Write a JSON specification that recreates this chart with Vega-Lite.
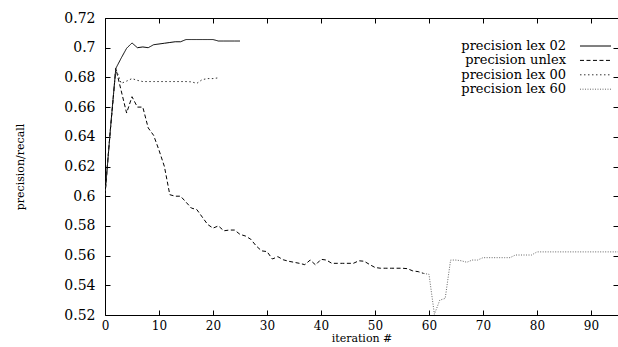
{
  "$schema": "https://vega.github.io/schema/vega-lite/v6.json",
  "width": 513,
  "height": 297,
  "autosize": "none",
  "padding": {"left": 105, "top": 18, "right": 0, "bottom": 32},
  "background": "white",
  "config": {
    "font": "DejaVu Serif",
    "view": {"stroke": "black", "strokeWidth": 1},
    "axis": {
      "labelFont": "DejaVu Serif",
      "labelFontSize": 13,
      "labelColor": "black",
      "titleFont": "DejaVu Serif",
      "titleFontSize": 12,
      "titleFontWeight": "normal",
      "titleColor": "black",
      "domain": false,
      "tickColor": "black",
      "tickSize": 5,
      "offset": -5,
      "grid": false
    },
    "legend": {
      "orient": "none",
      "legendX": 484,
      "legendY": 21.5,
      "symbolType": "M-6,0H6",
      "symbolSize": 26.7,
      "symbolStrokeWidth": 1,
      "labelAlign": "right",
      "labelOffset": -36,
      "labelFont": "DejaVu Serif",
      "labelFontSize": 13,
      "labelColor": "black",
      "rowPadding": 0.4,
      "padding": 0
    }
  },
  "data": {
    "values": [
      {"s": "precision lex 02", "x": 0, "v": 0.601},
      {"s": "precision lex 02", "x": 1, "v": 0.645},
      {"s": "precision lex 02", "x": 2, "v": 0.686},
      {"s": "precision lex 02", "x": 3, "v": 0.693},
      {"s": "precision lex 02", "x": 4, "v": 0.6996},
      {"s": "precision lex 02", "x": 5, "v": 0.7032},
      {"s": "precision lex 02", "x": 6, "v": 0.7},
      {"s": "precision lex 02", "x": 7, "v": 0.7005},
      {"s": "precision lex 02", "x": 8, "v": 0.7},
      {"s": "precision lex 02", "x": 9, "v": 0.702},
      {"s": "precision lex 02", "x": 10, "v": 0.7025},
      {"s": "precision lex 02", "x": 11, "v": 0.703},
      {"s": "precision lex 02", "x": 12, "v": 0.7035},
      {"s": "precision lex 02", "x": 13, "v": 0.704},
      {"s": "precision lex 02", "x": 14, "v": 0.704},
      {"s": "precision lex 02", "x": 15, "v": 0.7055},
      {"s": "precision lex 02", "x": 16, "v": 0.7055},
      {"s": "precision lex 02", "x": 17, "v": 0.7055},
      {"s": "precision lex 02", "x": 18, "v": 0.7055},
      {"s": "precision lex 02", "x": 19, "v": 0.7055},
      {"s": "precision lex 02", "x": 20, "v": 0.7055},
      {"s": "precision lex 02", "x": 21, "v": 0.7045},
      {"s": "precision lex 02", "x": 22, "v": 0.7045},
      {"s": "precision lex 02", "x": 23, "v": 0.7045},
      {"s": "precision lex 02", "x": 24, "v": 0.7045},
      {"s": "precision lex 02", "x": 25, "v": 0.7045},

      {"s": "precision unlex", "x": 0, "v": 0.601},
      {"s": "precision unlex", "x": 1, "v": 0.645},
      {"s": "precision unlex", "x": 2, "v": 0.686},
      {"s": "precision unlex", "x": 3, "v": 0.671},
      {"s": "precision unlex", "x": 4, "v": 0.656},
      {"s": "precision unlex", "x": 5, "v": 0.667},
      {"s": "precision unlex", "x": 6, "v": 0.66},
      {"s": "precision unlex", "x": 7, "v": 0.66},
      {"s": "precision unlex", "x": 8, "v": 0.646},
      {"s": "precision unlex", "x": 9, "v": 0.641},
      {"s": "precision unlex", "x": 10, "v": 0.631},
      {"s": "precision unlex", "x": 11, "v": 0.62},
      {"s": "precision unlex", "x": 12, "v": 0.601},
      {"s": "precision unlex", "x": 13, "v": 0.6},
      {"s": "precision unlex", "x": 14, "v": 0.6},
      {"s": "precision unlex", "x": 15, "v": 0.596},
      {"s": "precision unlex", "x": 16, "v": 0.592},
      {"s": "precision unlex", "x": 17, "v": 0.591},
      {"s": "precision unlex", "x": 18, "v": 0.586},
      {"s": "precision unlex", "x": 19, "v": 0.581},
      {"s": "precision unlex", "x": 20, "v": 0.5785},
      {"s": "precision unlex", "x": 21, "v": 0.58},
      {"s": "precision unlex", "x": 22, "v": 0.5767},
      {"s": "precision unlex", "x": 23, "v": 0.5772},
      {"s": "precision unlex", "x": 24, "v": 0.5772},
      {"s": "precision unlex", "x": 25, "v": 0.5743},
      {"s": "precision unlex", "x": 26, "v": 0.5732},
      {"s": "precision unlex", "x": 27, "v": 0.571},
      {"s": "precision unlex", "x": 28, "v": 0.5665},
      {"s": "precision unlex", "x": 29, "v": 0.5632},
      {"s": "precision unlex", "x": 30, "v": 0.5627},
      {"s": "precision unlex", "x": 31, "v": 0.5577},
      {"s": "precision unlex", "x": 32, "v": 0.5593},
      {"s": "precision unlex", "x": 33, "v": 0.5572},
      {"s": "precision unlex", "x": 34, "v": 0.5562},
      {"s": "precision unlex", "x": 35, "v": 0.5555},
      {"s": "precision unlex", "x": 36, "v": 0.5548},
      {"s": "precision unlex", "x": 37, "v": 0.5539},
      {"s": "precision unlex", "x": 38, "v": 0.557},
      {"s": "precision unlex", "x": 39, "v": 0.5537},
      {"s": "precision unlex", "x": 40, "v": 0.5575},
      {"s": "precision unlex", "x": 41, "v": 0.557},
      {"s": "precision unlex", "x": 42, "v": 0.5548},
      {"s": "precision unlex", "x": 43, "v": 0.5548},
      {"s": "precision unlex", "x": 44, "v": 0.5548},
      {"s": "precision unlex", "x": 45, "v": 0.5548},
      {"s": "precision unlex", "x": 46, "v": 0.5548},
      {"s": "precision unlex", "x": 47, "v": 0.5565},
      {"s": "precision unlex", "x": 48, "v": 0.5562},
      {"s": "precision unlex", "x": 49, "v": 0.554},
      {"s": "precision unlex", "x": 50, "v": 0.552},
      {"s": "precision unlex", "x": 51, "v": 0.5515},
      {"s": "precision unlex", "x": 52, "v": 0.5515},
      {"s": "precision unlex", "x": 53, "v": 0.5515},
      {"s": "precision unlex", "x": 54, "v": 0.5515},
      {"s": "precision unlex", "x": 55, "v": 0.5515},
      {"s": "precision unlex", "x": 56, "v": 0.5512},
      {"s": "precision unlex", "x": 57, "v": 0.5497},
      {"s": "precision unlex", "x": 58, "v": 0.5492},
      {"s": "precision unlex", "x": 59, "v": 0.548},

      {"s": "precision lex 00", "x": 0, "v": 0.601},
      {"s": "precision lex 00", "x": 1, "v": 0.645},
      {"s": "precision lex 00", "x": 2, "v": 0.686},
      {"s": "precision lex 00", "x": 3, "v": 0.676},
      {"s": "precision lex 00", "x": 4, "v": 0.6775},
      {"s": "precision lex 00", "x": 5, "v": 0.6792},
      {"s": "precision lex 00", "x": 6, "v": 0.678},
      {"s": "precision lex 00", "x": 7, "v": 0.6772},
      {"s": "precision lex 00", "x": 8, "v": 0.6772},
      {"s": "precision lex 00", "x": 9, "v": 0.6772},
      {"s": "precision lex 00", "x": 10, "v": 0.6772},
      {"s": "precision lex 00", "x": 11, "v": 0.6772},
      {"s": "precision lex 00", "x": 12, "v": 0.6772},
      {"s": "precision lex 00", "x": 13, "v": 0.6772},
      {"s": "precision lex 00", "x": 14, "v": 0.6772},
      {"s": "precision lex 00", "x": 15, "v": 0.6772},
      {"s": "precision lex 00", "x": 16, "v": 0.677},
      {"s": "precision lex 00", "x": 17, "v": 0.676},
      {"s": "precision lex 00", "x": 18, "v": 0.6785},
      {"s": "precision lex 00", "x": 19, "v": 0.6792},
      {"s": "precision lex 00", "x": 20, "v": 0.6792},
      {"s": "precision lex 00", "x": 21, "v": 0.6797},

      {"s": "precision lex 60", "x": 59, "v": 0.548},
      {"s": "precision lex 60", "x": 60, "v": 0.5474},
      {"s": "precision lex 60", "x": 61, "v": 0.5205},
      {"s": "precision lex 60", "x": 62, "v": 0.53},
      {"s": "precision lex 60", "x": 63, "v": 0.5312},
      {"s": "precision lex 60", "x": 64, "v": 0.557},
      {"s": "precision lex 60", "x": 65, "v": 0.557},
      {"s": "precision lex 60", "x": 66, "v": 0.5565},
      {"s": "precision lex 60", "x": 67, "v": 0.5555},
      {"s": "precision lex 60", "x": 68, "v": 0.557},
      {"s": "precision lex 60", "x": 69, "v": 0.557},
      {"s": "precision lex 60", "x": 70, "v": 0.5586},
      {"s": "precision lex 60", "x": 71, "v": 0.5586},
      {"s": "precision lex 60", "x": 72, "v": 0.5586},
      {"s": "precision lex 60", "x": 73, "v": 0.5586},
      {"s": "precision lex 60", "x": 74, "v": 0.5586},
      {"s": "precision lex 60", "x": 75, "v": 0.5586},
      {"s": "precision lex 60", "x": 76, "v": 0.5604},
      {"s": "precision lex 60", "x": 77, "v": 0.5604},
      {"s": "precision lex 60", "x": 78, "v": 0.5604},
      {"s": "precision lex 60", "x": 79, "v": 0.5604},
      {"s": "precision lex 60", "x": 80, "v": 0.5625},
      {"s": "precision lex 60", "x": 81, "v": 0.5625},
      {"s": "precision lex 60", "x": 82, "v": 0.5625},
      {"s": "precision lex 60", "x": 83, "v": 0.5625},
      {"s": "precision lex 60", "x": 84, "v": 0.5625},
      {"s": "precision lex 60", "x": 85, "v": 0.5625},
      {"s": "precision lex 60", "x": 86, "v": 0.5625},
      {"s": "precision lex 60", "x": 87, "v": 0.5625},
      {"s": "precision lex 60", "x": 88, "v": 0.5625},
      {"s": "precision lex 60", "x": 89, "v": 0.5625},
      {"s": "precision lex 60", "x": 90, "v": 0.5625},
      {"s": "precision lex 60", "x": 91, "v": 0.5625},
      {"s": "precision lex 60", "x": 92, "v": 0.5625},
      {"s": "precision lex 60", "x": 93, "v": 0.5625},
      {"s": "precision lex 60", "x": 94, "v": 0.5625},
      {"s": "precision lex 60", "x": 95, "v": 0.5625}
    ]
  },
  "layer": [
    {
      "mark": {"type": "line", "strokeWidth": 1, "clip": true},
      "encoding": {
        "x": {
          "field": "x", "type": "quantitative",
          "scale": {"domain": [0, 95], "nice": false, "zero": false},
          "axis": {"orient": "bottom", "title": "iteration #", "titleFontSize": 11, "labelFontSize": 12, "values": [0, 10, 20, 30, 40, 50, 60, 70, 80, 90], "labelPadding": 5, "titlePadding": 1, "labelFlush": false}
        },
        "y": {
          "field": "v", "type": "quantitative",
          "scale": {"domain": [0.52, 0.72], "nice": false, "zero": false},
          "axis": {"orient": "left", "title": "precision/recall", "titleFontSize": 11, "labelFontSize": 14, "values": [0.52, 0.54, 0.56, 0.58, 0.6, 0.62, 0.64, 0.66, 0.68, 0.7, 0.72], "format": ".2~f", "labelPadding": 10, "titlePadding": 38, "labelFlush": false}
        },
        "color": {
          "field": "s", "type": "nominal",
          "scale": {"domain": ["precision lex 02", "precision unlex", "precision lex 00", "precision lex 60"], "range": ["#000000", "#000000", "#333333", "#666666"]},
          "legend": {"title": null}
        },
        "strokeDash": {
          "field": "s", "type": "nominal",
          "scale": {"domain": ["precision lex 02", "precision unlex", "precision lex 00", "precision lex 60"], "range": [[1, 0], [4, 2.5], [1.5, 2.5], [1, 1.5]]},
          "legend": {"title": null}
        }
      }
    },
    {
      "mark": {"type": "line", "opacity": 0},
      "encoding": {
        "x": {"field": "x", "type": "quantitative", "axis": {"orient": "top", "labels": false, "title": null, "ticks": true, "values": [0, 10, 20, 30, 40, 50, 60, 70, 80, 90]}},
        "y": {"field": "v", "type": "quantitative", "axis": {"orient": "right", "labels": false, "title": null, "ticks": true, "values": [0.52, 0.54, 0.56, 0.58, 0.6, 0.62, 0.64, 0.66, 0.68, 0.7, 0.72]}},
        "detail": {"field": "s", "type": "nominal"}
      }
    }
  ],
  "resolve": {"axis": {"x": "independent", "y": "independent"}}
}
